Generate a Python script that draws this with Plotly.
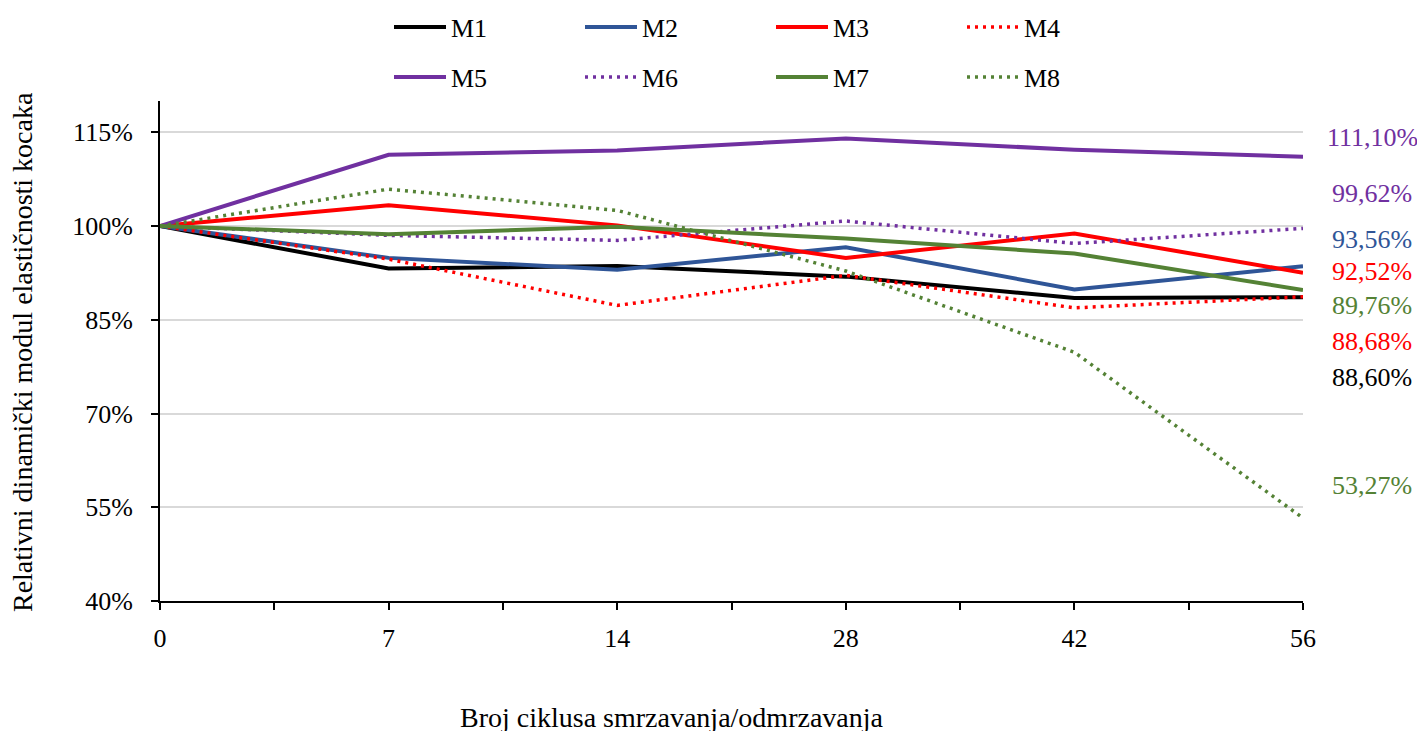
import plotly.graph_objects as go

cycles = ["0", "7", "14", "28", "42", "56"]
series_names = ["M1", "M2", "M3", "M4", "M5", "M6", "M7", "M8"]
M1 = [100.0, 93.2, 93.6, 91.9, 88.5, 88.60]
M2 = [100.0, 94.9, 93.0, 96.6, 89.85, 93.56]
M3 = [100.0, 103.3, 100.1, 94.9, 98.8, 92.52]
M4 = [100.0, 94.7, 87.3, 92.1, 86.9, 88.68]
M5 = [100.0, 111.4, 112.1, 114.0, 112.2, 111.10]
M6 = [100.0, 98.5, 97.7, 100.8, 97.2, 99.62]
M7 = [100.0, 98.7, 99.9, 98.0, 95.6, 89.76]
M8 = [100.0, 105.9, 102.5, 92.8, 79.8, 53.27]
values = [M1, M2, M3, M4, M5, M6, M7, M8]

y_ticks = [40, 55, 70, 85, 100, 115]

# styles
colors = ["#000000", "#2F5597", "#FF0000", "#FF0000", "#7030A0", "#7030A0", "#548235", "#548235"]
dashes = ["solid", "solid", "solid", "3px,5px", "solid", "3px,5px", "solid", "3px,5px"]
FONT = "Liberation Serif"
FS = 26
OFF = 8  # page body margin offset

xidx = list(range(len(cycles)))
fig = go.Figure()
for i, (name, vals) in enumerate(zip(series_names, values)):
    fig.add_trace(go.Scatter(
        x=xidx, y=vals, mode="lines", name=name,
        line=dict(color=colors[i], width=4 if dashes[i] == "solid" else 3.5, dash=dashes[i]),
        legend="legend" if i < 4 else "legend2",
        hoverinfo="skip",
    ))

# end-value labels (order of text on the right, layout positions in data units)
label_order = [4, 5, 1, 2, 6, 3, 0, 7]
label_y = [114.2, 105.25, 97.9, 92.8, 87.3, 81.6, 75.8, 58.55]
annotations = []
for k, yv in zip(label_order, label_y):
    txt = f"{values[k][-1]:.2f}%".replace(".", ",")
    annotations.append(dict(
        x=1.0604, xref="paper", y=yv, yref="y", text=txt, showarrow=False,
        xanchor="center", yanchor="middle",
        font=dict(family=FONT, size=FS, color=colors[k]),
    ))

annotations.append(dict(
    x=0.448, xref="paper", y=-0.232, yref="paper",
    text="Broj ciklusa smrzavanja/odmrzavanja", showarrow=False,
    xanchor="center", yanchor="middle", font=dict(family=FONT, size=28, color="#000000"),
))
annotations.append(dict(
    x=-0.1207, xref="paper", y=0.498, yref="paper",
    text="Relativni dinamički modul elastičnosti kocaka", showarrow=False, textangle=-90,
    xanchor="center", yanchor="middle", font=dict(family=FONT, size=28, color="#000000"),
))

legend_common = dict(
    orientation="h", xref="container", yref="container", xanchor="left", yanchor="middle",
    font=dict(family=FONT, size=FS, color="#000000"), entrywidth=124, entrywidthmode="pixels",
    bgcolor="rgba(0,0,0,0)", itemwidth=52, traceorder="normal",
)

fig.update_layout(
    width=1425, height=731,
    margin=dict(l=160 - OFF, r=122 + OFF, t=101 - OFF, b=130 + OFF, autoexpand=False),
    paper_bgcolor="white", plot_bgcolor="white",
    font=dict(family=FONT, size=FS, color="#000000"),
    showlegend=True,
    legend=dict(x=381 / 1425, y=1 - 19 / 731, **legend_common),
    legend2=dict(x=381 / 1425, y=1 - 69 / 731, **legend_common),
    annotations=annotations,
    xaxis=dict(
        range=[0, len(cycles) - 1], tickmode="array", tickvals=xidx, ticktext=cycles,
        showline=True, linecolor="#000000", linewidth=2, showgrid=False, zeroline=False,
        ticks="outside", ticklen=7, tickwidth=2, tickcolor="#000000",
        ticklabelstandoff=6,
        minor=dict(dtick=0.5, tick0=0, ticks="outside", ticklen=7, tickwidth=2, tickcolor="#000000", showgrid=False),
        tickfont=dict(family=FONT, size=FS, color="#000000"),
    ),
    yaxis=dict(
        range=[40, 120], tickmode="array", tickvals=y_ticks, ticktext=[f"{t}%" for t in y_ticks],
        showline=True, linecolor="#000000", linewidth=2,
        showgrid=True, gridcolor="#D9D9D9", gridwidth=2, zeroline=False,
        ticks="outside", ticklen=7, tickwidth=2, tickcolor="#000000",
        ticklabelstandoff=13,
        tickfont=dict(family=FONT, size=FS, color="#000000"),
    ),
)

fig.write_html("out.html")
